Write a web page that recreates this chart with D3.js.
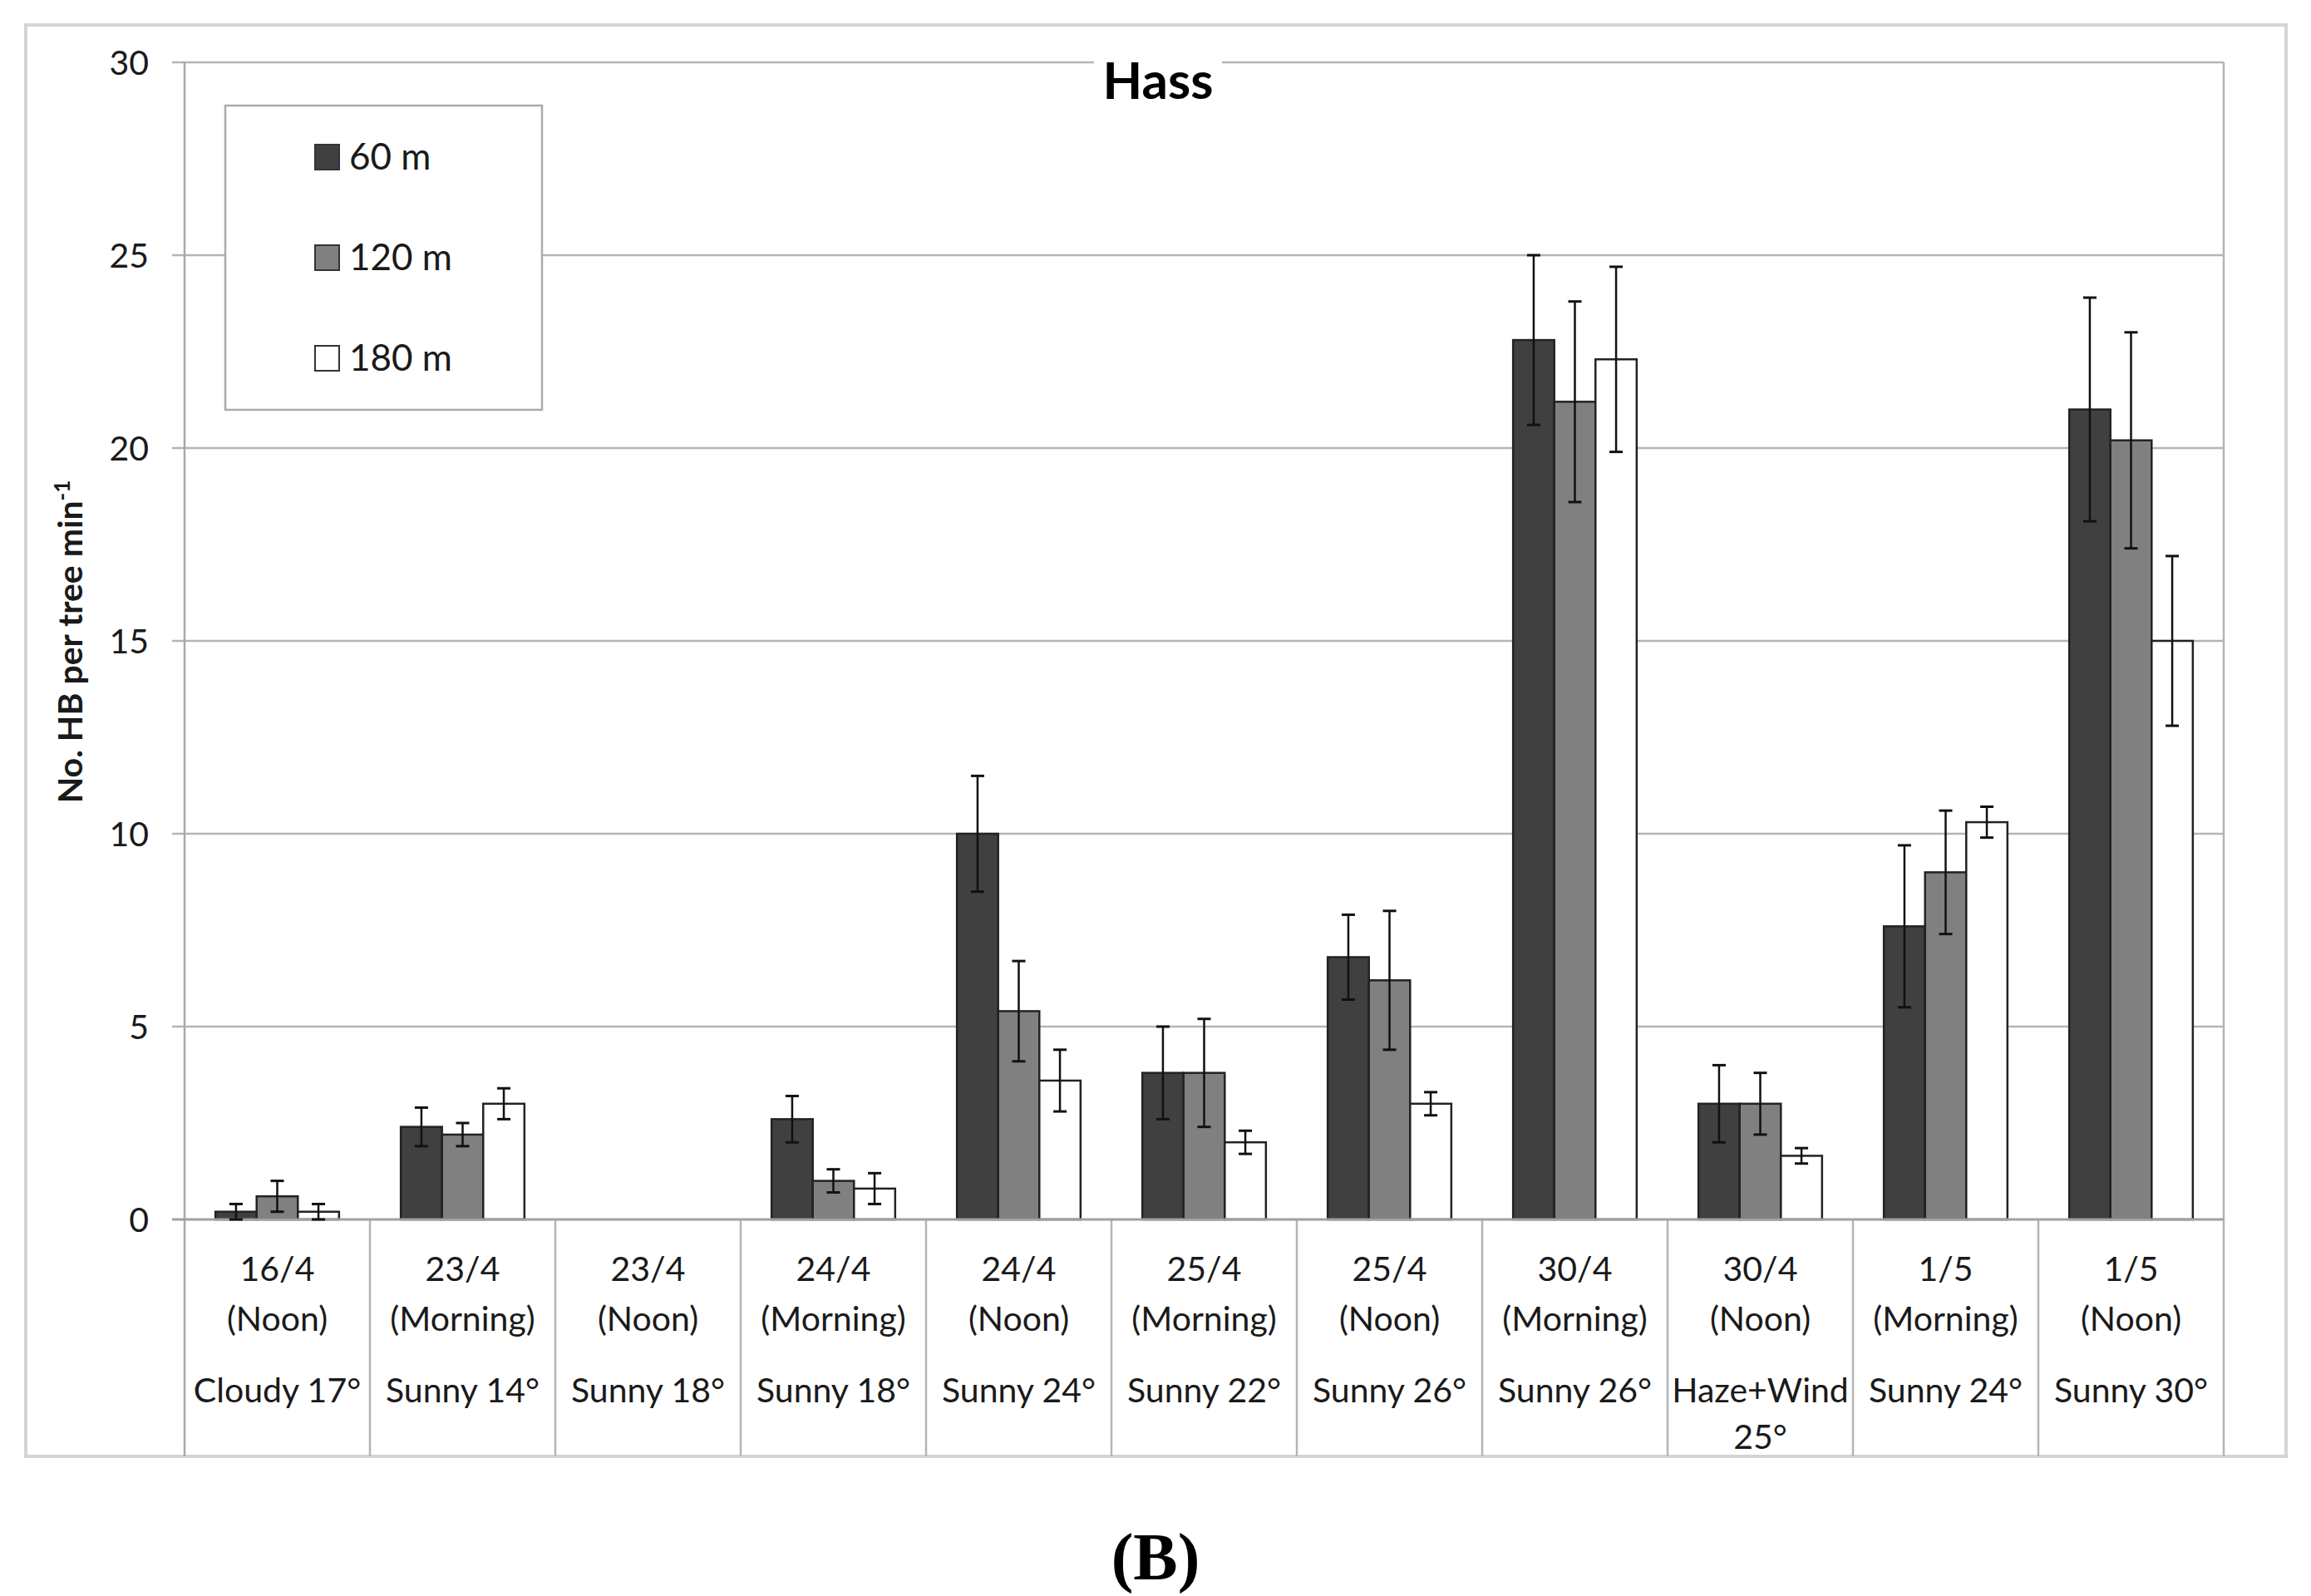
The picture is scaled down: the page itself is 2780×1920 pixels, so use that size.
<!DOCTYPE html>
<html>
<head>
<meta charset="utf-8">
<script src="https://cdn.jsdelivr.net/npm/d3@7"></script>
<style>
  body { margin: 0; background: #ffffff; }
  text { font-family: Lato, "Open Sans", sans-serif; fill: #1a1a1a; }
</style>
</head>
<body>
<div id="chart"></div>
<script>
// categories (three label rows under each group)
var dates = ["16/4", "23/4", "23/4", "24/4", "24/4", "25/4", "25/4", "30/4", "30/4", "1/5", "1/5"];
var times = ["(Noon)", "(Morning)", "(Noon)", "(Morning)", "(Noon)", "(Morning)", "(Noon)", "(Morning)", "(Noon)", "(Morning)", "(Noon)"];
var weather = ["Cloudy 17°", "Sunny 14°", "Sunny 18°", "Sunny 18°", "Sunny 24°", "Sunny 22°", "Sunny 26°", "Sunny 26°", "Haze+Wind 25°", "Sunny 24°", "Sunny 30°"];

// series
var seriesNames = ["60 m", "120 m", "180 m"];
var mean60  = [0.2, 2.4, 0, 2.6, 10.0, 3.8, 6.8, 22.8, 3.0, 7.6, 21.0];
var err60   = [0.2, 0.5, 0, 0.6, 1.5, 1.2, 1.1, 2.2, 1.0, 2.1, 2.9];
var mean120 = [0.6, 2.2, 0, 1.0, 5.4, 3.8, 6.2, 21.2, 3.0, 9.0, 20.2];
var err120  = [0.4, 0.3, 0, 0.3, 1.3, 1.4, 1.8, 2.6, 0.8, 1.6, 2.8];
var mean180 = [0.2, 3.0, 0, 0.8, 3.6, 2.0, 3.0, 22.3, 1.65, 10.3, 15.0];
var err180  = [0.2, 0.4, 0, 0.4, 0.8, 0.3, 0.3, 2.4, 0.2, 0.4, 2.2];

var yTicks = [0, 5, 10, 15, 20, 25, 30];

var width = 2780, height = 1920;
var plotLeft = 222, plotRight = 2675, plotTop = 75, plotBottom = 1467, labelBottom = 1752;
var fills = ["#404040", "#808080", "#ffffff"];

var svg = d3.select("#chart").append("svg")
    .attr("width", width)
    .attr("height", height);

// chart area border
svg.append("rect")
    .attr("x", 31).attr("y", 30)
    .attr("width", 2719).attr("height", labelBottom - 30)
    .attr("fill", "#ffffff")
    .attr("stroke", "#d4d4d4")
    .attr("stroke-width", 4);

var x0 = d3.scaleBand().domain(d3.range(dates.length)).range([plotLeft, plotRight]);
var x1 = d3.scaleBand().domain(seriesNames).range([0, x0.bandwidth()]).paddingOuter(0.75);
var y = d3.scaleLinear().domain([0, 30]).range([plotBottom, plotTop]);

//gridlines and tick marks
svg.selectAll(".grid")
    .data(yTicks.filter(function (d) { return d > 0; }))
    .enter().append("line")
    .attr("x1", plotLeft - 15).attr("x2", plotRight)
    .attr("y1", function (d) { return y(d); })
    .attr("y2", function (d) { return y(d); })
    .attr("stroke", "#b5b5b5")
    .attr("stroke-width", 2.5);

// vertical lines: axis, right edge and category dividers below the axis
svg.append("line")
    .attr("x1", plotLeft).attr("x2", plotLeft).attr("y1", plotTop).attr("y2", labelBottom)
    .attr("stroke", "#a8a8a8").attr("stroke-width", 2.5);
svg.append("line")
    .attr("x1", plotRight).attr("x2", plotRight).attr("y1", plotTop).attr("y2", labelBottom)
    .attr("stroke", "#b5b5b5").attr("stroke-width", 2.5);
svg.selectAll(".divider")
    .data(d3.range(1, dates.length))
    .enter().append("line")
    .attr("x1", function (d) { return x0(d); })
    .attr("x2", function (d) { return x0(d); })
    .attr("y1", plotBottom).attr("y2", labelBottom)
    .attr("stroke", "#b5b5b5").attr("stroke-width", 2.5);

// y axis labels
svg.selectAll(".ylab")
    .data(yTicks)
    .enter().append("text")
    .attr("x", 179)
    .attr("y", function (d) { return y(d); })
    .attr("dy", "0.36em")
    .attr("text-anchor", "end")
    .style("font-size", "41px")
    .text(function (d) { return d; });

// title with white box breaking the top gridline
svg.append("rect")
    .attr("x", 1316).attr("y", 64).attr("width", 154).attr("height", 72)
    .attr("fill", "#ffffff");
svg.append("text")
    .attr("x", 1393).attr("y", 119)
    .attr("text-anchor", "middle")
    .style("font-size", "62px").style("font-weight", "bold")
    .style("fill", "#000")
    .text("Hass");

// y axis title
var yt = svg.append("text")
    .attr("transform", "translate(99,772) rotate(-90)")
    .attr("text-anchor", "middle")
    .style("font-size", "41px").style("font-weight", "bold");
yt.append("tspan").text("No. HB per tree min");
yt.append("tspan").attr("dy", -15).style("font-size", "26px").text("-1");

// bars
var series = [
    { name: seriesNames[0], mean: mean60, err: err60, fill: fills[0] },
    { name: seriesNames[1], mean: mean120, err: err120, fill: fills[1] },
    { name: seriesNames[2], mean: mean180, err: err180, fill: fills[2] }
];

var points = [];
series.forEach(function (s) {
    s.mean.forEach(function (v, i) {
        points.push({ i: i, name: s.name, v: v, e: s.err[i], fill: s.fill });
    });
});

svg.selectAll(".bar")
    .data(points.filter(function (d) { return d.v > 0; }))
    .enter().append("rect")
    .attr("class", "bar")
    .attr("x", function (d) { return x0(d.i) + x1(d.name); })
    .attr("y", function (d) { return y(d.v); })
    .attr("width", x1.bandwidth())
    .attr("height", function (d) { return y(0) - y(d.v); })
    .attr("fill", function (d) { return d.fill; })
    .attr("stroke", "#222")
    .attr("stroke-width", 2.5);

// zero line drawn on top of bars
svg.append("line")
    .attr("x1", plotLeft - 15).attr("x2", plotRight).attr("y1", y(0)).attr("y2", y(0))
    .attr("stroke", "#a0a0a0").attr("stroke-width", 3);

// error bars
var eb = svg.selectAll(".err")
    .data(points.filter(function (d) { return d.e > 0; }))
    .enter().append("g")
    .attr("transform", function (d) { return "translate(" + (x0(d.i) + x1(d.name) + x1.bandwidth() / 2) + ",0)"; });
eb.append("line")
    .attr("y1", function (d) { return y(d.v + d.e); })
    .attr("y2", function (d) { return y(Math.max(0, d.v - d.e)); })
    .attr("stroke", "#111").attr("stroke-width", 2.5);
eb.selectAll(".cap")
    .data(function (d) { return [d.v + d.e, Math.max(0, d.v - d.e)]; })
    .enter().append("line")
    .attr("x1", -8).attr("x2", 8)
    .attr("y1", function (d) { return y(d); })
    .attr("y2", function (d) { return y(d); })
    .attr("stroke", "#111").attr("stroke-width", 3);

// category labels
var cat = svg.selectAll(".cat")
    .data(d3.range(dates.length))
    .enter().append("g")
    .attr("transform", function (i) { return "translate(" + (x0(i) + x0.bandwidth() / 2) + ",0)"; });
cat.append("text").attr("y", 1541).attr("text-anchor", "middle").style("font-size", "41px")
    .text(function (i) { return dates[i]; });
cat.append("text").attr("y", 1601).attr("text-anchor", "middle").style("font-size", "41px")
    .text(function (i) { return times[i]; });
cat.each(function (i) {
    var g = d3.select(this);
    var t = g.append("text").attr("y", 1687).attr("text-anchor", "middle").style("font-size", "41px")
        .text(weather[i]);
    if (t.node().getComputedTextLength() > x0.bandwidth() - 8) {
        var k = weather[i].lastIndexOf(" ");
        t.text(weather[i].slice(0, k));
        g.append("text").attr("y", 1743).attr("text-anchor", "middle").style("font-size", "41px")
            .text(weather[i].slice(k + 1));
    }
});

// legend
var legend = svg.append("g");
legend.append("rect")
    .attr("x", 271).attr("y", 127).attr("width", 381).attr("height", 366)
    .attr("fill", "#ffffff").attr("stroke", "#aaaaaa").attr("stroke-width", 2.5);
var item = legend.selectAll(".item")
    .data(series)
    .enter().append("g")
    .attr("transform", function (d, i) { return "translate(0," + (i * 121) + ")"; });
item.append("rect")
    .attr("x", 379).attr("y", 174).attr("width", 29).attr("height", 30)
    .attr("fill", function (d) { return d.fill; })
    .attr("stroke", "#333").attr("stroke-width", 2);
item.append("text")
    .attr("x", 420).attr("y", 204)
    .style("font-size", "44px")
    .text(function (d) { return d.name; });

// panel letter
svg.append("text")
    .attr("x", 1390).attr("y", 1900)
    .attr("text-anchor", "middle")
    .style("font-family", "'Liberation Serif', 'DejaVu Serif', serif")
    .style("font-size", "80px").style("font-weight", "bold")
    .style("fill", "#000")
    .text("(B)");
</script>
</body>
</html>
